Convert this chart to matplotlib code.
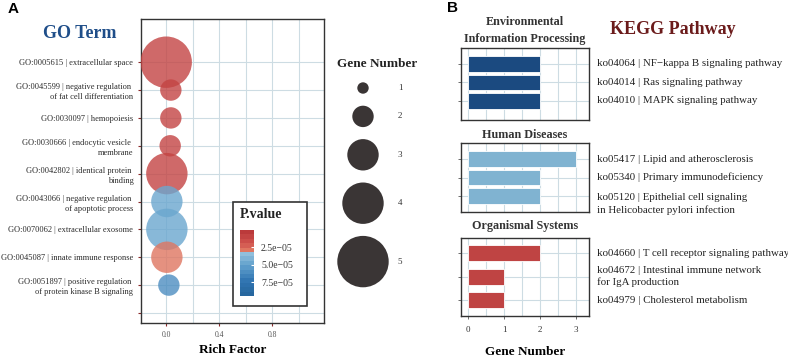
import numpy as np
import matplotlib
matplotlib.use("Agg")
import matplotlib.pyplot as plt
from matplotlib.colors import LinearSegmentedColormap, Normalize
from matplotlib.cm import ScalarMappable
from matplotlib.patches import Rectangle

plt.rcParams['font.family'] = ['Liberation Serif', 'DejaVu Serif']

# ---- GO term bubbles (panel A) ----
go_terms = [
    "GO:0005615 | extracellular space",
    "GO:0045599 | negative regulation \nof fat cell differentiation",
    "GO:0030097 | hemopoiesis",
    "GO:0030666 | endocytic vesicle \nmembrane",
    "GO:0042802 | identical protein \nbinding",
    "GO:0043066 | negative regulation \nof apoptotic process",
    "GO:0070062 | extracellular exosome",
    "GO:0045087 | innate immune response",
    "GO:0051897 | positive regulation \nof protein kinase B signaling",
]
go_rich = [0.0, 0.035, 0.035, 0.03, 0.005, 0.005, 0.005, 0.005, 0.02]
go_genes = [5, 2, 2, 2, 4, 3, 4, 3, 2]
go_pvalue = [9e-6, 1.2e-5, 1.2e-5, 1.2e-5, 1.0e-5, 4.6e-5, 4.8e-5, 2.8e-5, 6.2e-5]

pvalue_ticks = [2.5e-5, 5.0e-5, 7.5e-5]
pvalue_labels = ["2.5e\u221205", "5.0e\u221205", "7.5e\u221205"]
legend_genes = [1, 2, 3, 4, 5]

# ---- KEGG pathways (panel B) ----
kegg_groups = ["Environmental\nInformation Processing", "Human Diseases", "Organismal Systems"]
env_terms = ["ko04064 | NF\u2212kappa B signaling pathway",
             "ko04014 | Ras signaling pathway",
             "ko04010 | MAPK signaling pathway"]
env_counts = [2, 2, 2]
hum_terms = ["ko05417 | Lipid and atherosclerosis",
             "ko05340 | Primary immunodeficiency",
             "ko05120 | Epithelial cell signaling\nin Helicobacter pylori infection"]
hum_counts = [3, 2, 2]
org_terms = ["ko04660 | T cell receptor signaling pathway",
             "ko04672 | Intestinal immune network\nfor IgA production",
             "ko04979 | Cholesterol metabolism"]
org_counts = [2, 1, 1]
kegg_colors = ['#1b4a80', '#80b3d1', '#bf4443']

W, H = 788, 357
fig = plt.figure(figsize=(W / 100, H / 100), dpi=100)


def box(x0, y0, x1, y1):
    # pixel box (top-left origin) -> figure fraction rect
    return [x0 / W, 1 - y1 / H, (x1 - x0) / W, (y1 - y0) / H]


def bubble_area(n):
    r_px = 5 * np.asarray(n, dtype=float) + 0.7
    return (2 * r_px * 0.72) ** 2


pcmap = LinearSegmentedColormap.from_list('pv', [
    (0.0, '#bb3a3b'), (0.18, '#d0534e'), (0.333, '#e5856a'),
    (0.334, '#97c3de'), (0.55, '#5e9ecb'), (0.8, '#2f74b1'), (1.0, '#27679f')
]).resampled(15)
pnorm = Normalize(vmin=7e-7, vmax=9.45e-5)

grid_col = '#cddce3'
tick_red = '#8b2a2a'

# ---------------- Panel A ----------------
ax = fig.add_axes(box(141, 19, 324, 323))
ypos = np.arange(len(go_terms))
ax.scatter(go_rich, ypos, s=bubble_area(go_genes), c=go_pvalue, cmap=pcmap,
           norm=pnorm, alpha=0.8, edgecolors='none', zorder=3)
ax.set_xlim(-0.19, 1.19)
ax.set_ylim(9.36, -1.55)
ax.set_yticks(np.arange(len(go_terms) + 1))
ax.set_yticklabels(go_terms + [''], fontsize=6, color='#2b2b2b', linespacing=1.35)
ax.set_xticks([0.0, 0.4, 0.8])
ax.set_xticklabels(['0.0', '0.4', '0.8'], fontsize=5.5, color='#555555')
ax.set_xticks([0.2, 0.6, 1.0], minor=True)
ax.grid(True, which='both', color=grid_col, lw=0.8)
ax.set_axisbelow(True)
ax.tick_params(which='major', length=2, width=0.8, color=tick_red)
ax.tick_params(axis='y', pad=3.5)
ax.tick_params(axis='x', pad=3.5)
ax.tick_params(which='minor', length=0)
for s in ax.spines.values():
    s.set_color('#333333')
    s.set_linewidth(1.0)
ax.set_xlabel('Rich Factor', fontsize=9.5, fontweight='bold', labelpad=4)

fig.text(80 / W, 1 - 34 / H, 'GO Term', ha='center', va='center',
         fontsize=13, fontweight='bold', color='#1f4e89')
fig.text(8 / W, 1 - 9 / H, 'A', ha='left', va='center', fontsize=11,
         fontweight='bold', family='Liberation Sans')

# P.value legend (inside panel A)
fig.add_artist(Rectangle((233 / W, 1 - 306 / H), 74 / W, 104 / H,
                         transform=fig.transFigure, facecolor='white',
                         edgecolor='#333333', lw=1.2, zorder=1))
fig.text(240 / W, 1 - 215 / H, 'P.value', ha='left', va='center', fontsize=10,
         fontweight='bold', color='#222222', zorder=3)
cax = fig.add_axes(box(240, 230, 254, 296))
cax.set_zorder(2)
cb = fig.colorbar(ScalarMappable(norm=pnorm, cmap=pcmap), cax=cax)
cax.invert_yaxis()
cb.set_ticks(pvalue_ticks)
cb.set_ticklabels(pvalue_labels)
cb.outline.set_visible(False)
cax.tick_params(length=2, width=0.8, color='white', direction='in',
                labelsize=7, labelcolor='#333333', pad=5)

# Gene Number legend
lax = fig.add_axes(box(330, 40, 440, 300))
lax.axis('off')
lax.set_xlim(330, 440)
lax.set_ylim(300, 40)
radii = 5 * np.array(legend_genes) + 0.7
yc = [88.0]
for i in range(1, len(legend_genes)):
    yc.append(yc[-1] + radii[i - 1] + radii[i] + 12)
lax.scatter([363] * len(legend_genes), yc, s=bubble_area(legend_genes),
            color='#3a3535', edgecolors='none', clip_on=False)
for n, y in zip(legend_genes, yc):
    lax.text(400, y, str(n), ha='center', va='center', fontsize=6.5, color='#333333')
lax.text(377, 64, 'Gene Number', ha='center', va='center', fontsize=9.5,
         fontweight='bold', color='#222222')

# ---------------- Panel B ----------------
panels = [
    # (pixel box, ylim, bar height, title pad, label va, label dy)
    (box(461, 48, 589, 120), (3.03, -0.865), 0.86, 4.5, 'center', 0),
    (box(461, 143, 589, 212), (2.865, -0.865), 0.86, 3.5, 'top', 1.8),
    (box(461, 238, 589, 316), (2.68, -0.64), 0.68, 6.5, 'center', 0),
]
kegg_terms = [env_terms, hum_terms, org_terms]
kegg_counts = [env_counts, hum_counts, org_counts]

for k, (rect, ylim, bh, tpad, lva, ldy) in enumerate(panels):
    bx = fig.add_axes(rect)
    yy = np.arange(len(kegg_terms[k]))
    bx.barh(yy, kegg_counts[k], height=bh, color=kegg_colors[k],
            edgecolor='white', linewidth=0.6, zorder=3)
    bx.set_xlim(-0.2, 3.36)
    bx.set_ylim(*ylim)
    bx.set_yticks(yy)
    bx.set_yticklabels([])
    bx.set_xticks([0, 1, 2, 3])
    bx.set_xticks([0.5, 1.5, 2.5], minor=True)
    bx.grid(True, which='both', color=grid_col, lw=0.8)
    bx.set_axisbelow(True)
    bx.tick_params(axis='y', length=2, width=0.6, color='#555555')
    bx.tick_params(which='minor', length=0)
    for s in bx.spines.values():
        s.set_color('#333333')
        s.set_linewidth(1.0)
    for y, term in zip(yy, kegg_terms[k]):
        # single-line labels in the 'top' panel keep their centre on the bar
        va = lva if '\n' in term else 'center'
        dy = ldy if '\n' in term else 0
        bx.annotate(term, xy=(1, y), xycoords=('axes fraction', 'data'),
                    xytext=(5.8, dy), textcoords='offset points',
                    ha='left', va=va, fontsize=7.8, linespacing=1.3,
                    color='#222222', annotation_clip=False)
    bx.set_title(kegg_groups[k], fontsize=8.7, fontweight='bold',
                 color='#333333', pad=tpad, linespacing=1.55)
    if k < len(panels) - 1:
        bx.tick_params(axis='x', length=0, labelbottom=False)
    else:
        bx.tick_params(axis='x', length=2, width=0.6, color='#555555',
                       labelsize=6.5, labelcolor='#333333', pad=5)
        bx.set_xlabel('Gene Number', fontsize=9.5, fontweight='bold', labelpad=9)

fig.text(673 / W, 1 - 30 / H, 'KEGG Pathway', ha='center', va='center',
         fontsize=13, fontweight='bold', color='#6b1b1b')
fig.text(447 / W, 1 - 8 / H, 'B', ha='left', va='center', fontsize=11,
         fontweight='bold', family='Liberation Sans')

fig.savefig('out.png', dpi=100)
